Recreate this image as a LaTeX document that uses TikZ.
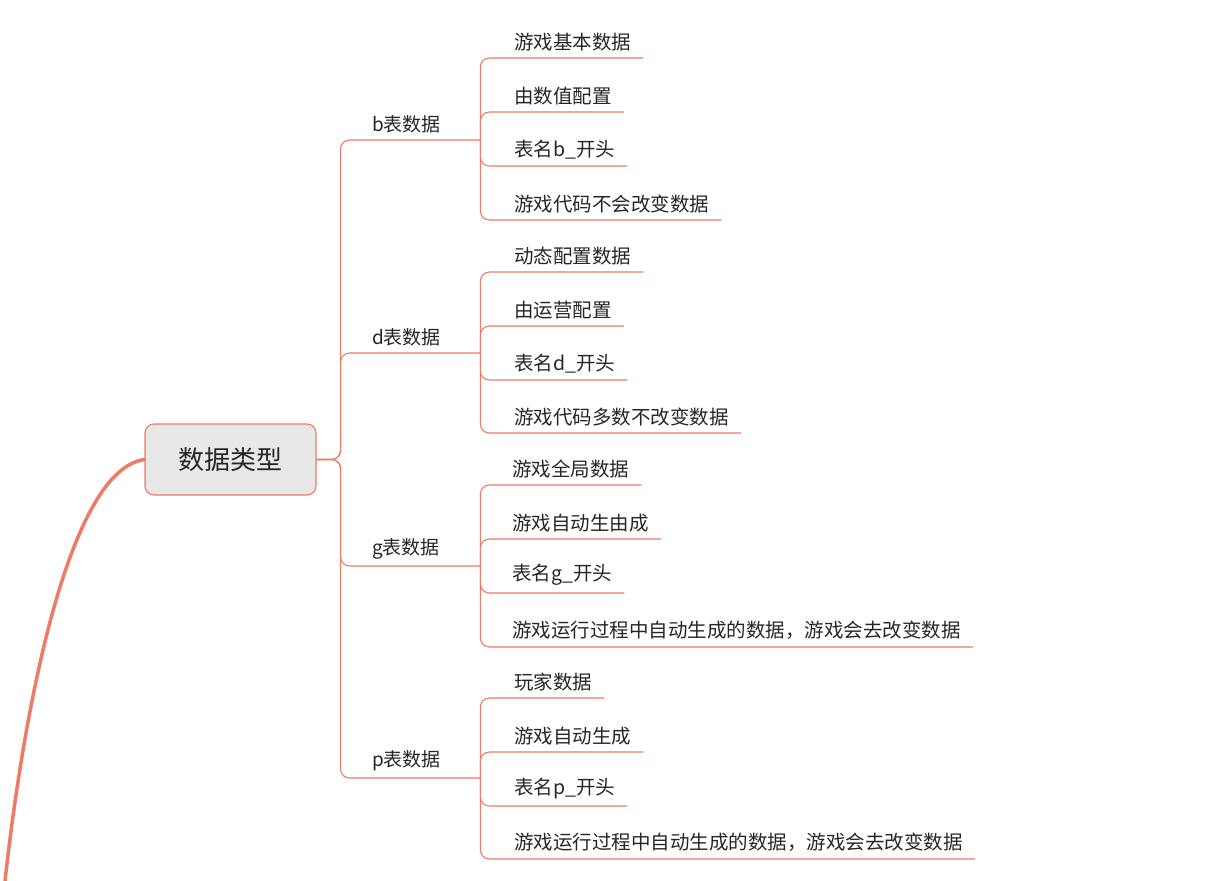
\documentclass[tikz,border=0pt]{standalone}
\usepackage{fontspec}
\newfontfamily\cjk{Noto Sans CJK SC}
\usetikzlibrary{calc}
\definecolor{mapline}{RGB}{238,122,104}
\definecolor{rootfill}{RGB}{232,232,232}
\begin{document}
\begin{tikzpicture}[x=1pt,y=1pt,yscale=-1,
	link/.style={draw=mapline, line width=1.1pt, rounded corners=9pt},
	rootbox/.style={draw=mapline, line width=1.1pt, fill=rootfill, rounded corners=9pt, minimum width=171pt, minimum height=71pt, font=\cjk\fontsize{26}{26}\selectfont, text=black!85},
	branch/.style={anchor=south west, inner xsep=0pt, inner ysep=7pt, text width=140pt, align=left, font=\cjk\fontsize{19}{19}\selectfont, text=black!85, execute at begin node=\hspace*{32pt}},
	leaf/.style={anchor=south west, inner xsep=0pt, inner ysep=7pt, font=\cjk\fontsize{19.5}{19.5}\selectfont, text=black!85, execute at begin node=\hspace*{34pt}, execute at end node=\hspace*{12pt}}]
	\useasboundingbox (0,0) rectangle (1232,881);

	% root
	\node[rootbox] (root) at (230.5,459.5) {数据类型};
	\coordinate (hub) at ($(root.east)+(24,0)$);
	\draw[mapline, line width=3.5pt, line cap=round] (root.west) .. controls (70,470) and (25,700) .. (5,881);

	% branches
	\node[branch] (b) at (340,140) {b表数据};
	\node[branch] (d) at (340,353) {d表数据};
	\node[branch] (g) at (340,566) {g表数据};
	\node[branch] (p) at (340,778) {p表数据};
	\foreach \br in {b,d,g,p}
		\draw[link] (root.east) -- (hub) |- (\br.south east);

	% leaves of b
	\node[leaf] (b1) at (480,58) {游戏基本数据};
	\node[leaf] (b2) at (480,112) {由数值配置};
	\node[leaf] (b3) at (480,166) {表名b\_开头};
	\node[leaf] (b4) at (480,220) {游戏代码不会改变数据};
	% leaves of d
	\node[leaf] (d1) at (480,272) {动态配置数据};
	\node[leaf] (d2) at (480,326) {由运营配置};
	\node[leaf] (d3) at (480,380) {表名d\_开头};
	\node[leaf] (d4) at (480,433) {游戏代码多数不改变数据};
	% leaves of g
	\node[leaf] (g1) at (478,485) {游戏全局数据};
	\node[leaf] (g2) at (478,539) {游戏自动生由成};
	\node[leaf] (g3) at (478,593) {表名g\_开头};
	\node[leaf] (g4) at (478,647) {游戏运行过程中自动生成的数据，游戏会去改变数据};
	% leaves of p
	\node[leaf] (p1) at (480,698) {玩家数据};
	\node[leaf] (p2) at (480,752) {游戏自动生成};
	\node[leaf] (p3) at (480,806) {表名p\_开头};
	\node[leaf] (p4) at (480,859) {游戏运行过程中自动生成的数据，游戏会去改变数据};

	\foreach \br in {b,d,g,p}
		\foreach \k in {1,2,3,4}
			\draw[link] (\br.south east) |- (\br\k.south east);
\end{tikzpicture}
\end{document}
